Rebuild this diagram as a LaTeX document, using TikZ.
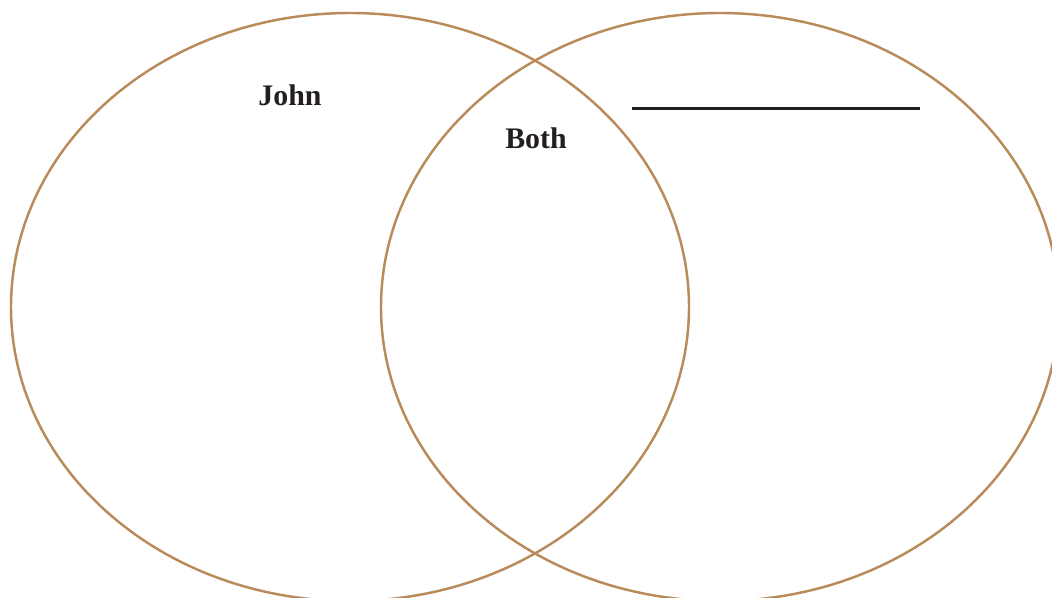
\documentclass[tikz,border=0pt]{standalone}
\usepackage{fontspec}
\setmainfont{Liberation Serif}
\definecolor{rim}{HTML}{B98A5A}
\definecolor{ink}{HTML}{231F20}
\tikzset{
  circ/.style={draw=rim, line width=1.4pt},
  lbl/.style={font=\fontsize{17}{20}\selectfont\bfseries, text=ink, inner sep=0pt}
}
\begin{document}
\begin{tikzpicture}[x=0.02cm,y=-0.02cm]

\useasboundingbox (0,0) rectangle (1052,598);
\clip (0,0) rectangle (1052,598);

% Cercles
\draw[circ] (350,307) ellipse [x radius=339, y radius=294];
\draw[circ] (720,307) ellipse [x radius=339, y radius=294];

% Titres
\node[lbl] (john) at (290,95) {John};
\node[lbl] (both) at (536,138) {Both};

% Ligne
\coordinate (ligneA) at (632,108.5);
\coordinate (ligneB) at (920,108.5);
\draw[ink, line width=1.7pt] (ligneA) -- (ligneB);

\end{tikzpicture}
\end{document}
